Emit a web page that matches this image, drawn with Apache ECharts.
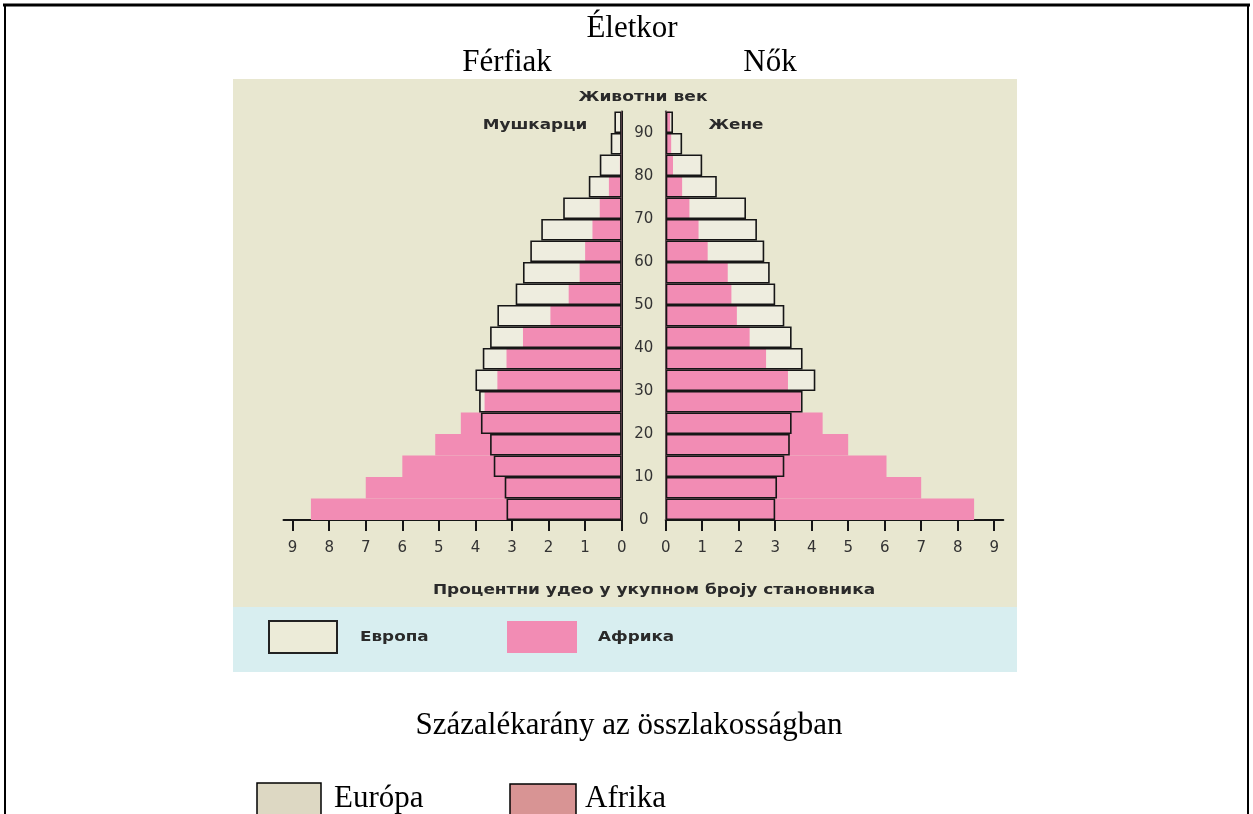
<!DOCTYPE html>
<html>
<head>
<meta charset="utf-8">
<script src="https://cdn.jsdelivr.net/npm/echarts@6/dist/echarts.min.js"></script>
<style>
html, body { margin: 0; padding: 0; background: #fff; }
#main { width: 1253px; height: 814px; }
</style>
</head>
<body>
<div id="main"></div>
<script>
// age groups, bottom to top
var ageGroups = ['0-4', '5-9', '10-14', '15-19', '20-24', '25-29', '30-34', '35-39', '40-44',
    '45-49', '50-54', '55-59', '60-64', '65-69', '70-74', '75-79', '80-84', '85-89', '90+'];
var ageTicks = [0, 10, 20, 30, 40, 50, 60, 70, 80, 90];
var pctTicks = [0, 1, 2, 3, 4, 5, 6, 7, 8, 9];

// % of total population
var europeMen   = [3.15, 3.2, 3.5, 3.6, 3.85, 3.9, 4.0, 3.8, 3.6, 3.4, 2.9, 2.7, 2.5, 2.2, 1.6, 0.9, 0.6, 0.3, 0.2];
var africaMen   = [8.5, 7.0, 6.0, 5.1, 4.4, 3.75, 3.4, 3.15, 2.7, 1.95, 1.45, 1.15, 1.0, 0.8, 0.6, 0.35, 0.05, 0.03, 0.02];
var europeWomen = [3.0, 3.05, 3.25, 3.4, 3.45, 3.75, 4.1, 3.75, 3.45, 3.25, 3.0, 2.85, 2.7, 2.5, 2.2, 1.4, 1.0, 0.45, 0.2];
var africaWomen = [8.45, 7.0, 6.05, 5.0, 4.3, 3.7, 3.35, 2.75, 2.3, 1.95, 1.8, 1.7, 1.15, 0.9, 0.65, 0.45, 0.2, 0.15, 0.12];

var PANEL = '#e8e7d0';
var STRIP = '#d8eef0';
var EU_FILL = '#eeeddf';
var AF_PINK = '#f28cb4';
var INK = '#2a2a2a';
var SERIF = '"Liberation Serif", "Times New Roman", serif';
var SANS = '"DejaVu Sans", Arial, sans-serif';

// europe fill -> africa -> europe outline on top
function sideSeries(idx, europe, africa) {
    var common = {
        type: 'bar',
        xAxisIndex: idx,
        yAxisIndex: idx,
        barWidth: '100%',
        barGap: '-100%',
        barCategoryGap: 0,
        silent: true,
        animation: false
    };
    return [
        Object.assign({}, common, { name: 'Европа', data: europe, itemStyle: { color: EU_FILL } }),
        Object.assign({}, common, { name: 'Африка', data: africa, itemStyle: { color: AF_PINK } }),
        Object.assign({}, common, { name: 'Европа', data: europe,
            itemStyle: { color: 'rgba(0,0,0,0)', borderColor: '#161616', borderWidth: 1.6 } })
    ];
}

function pctAxis(idx, inverse) {
    return {
        gridIndex: idx,
        type: 'value',
        inverse: inverse,
        min: 0,
        max: 9.25,
        axisLine: { show: true, lineStyle: { color: '#161616', width: 2 } },
        axisTick: { show: true, customValues: pctTicks, length: 11, lineStyle: { color: '#161616', width: 2 } },
        axisLabel: { customValues: pctTicks, margin: 21, fontSize: 15, color: '#333', fontFamily: SANS },
        splitLine: { show: false }
    };
}

function ageAxis(idx, pos) {
    return {
        gridIndex: idx,
        type: 'category',
        data: ageGroups,
        position: pos,
        axisLine: { show: true, lineStyle: { color: '#161616', width: 2 } },
        axisTick: { show: false },
        axisLabel: { show: false }
    };
}

// sx: horizontal stretch, the scanned lettering is wider than any local font
function txt(x, y, text, font, align, fill, sx) {
    return {
        type: 'text', x: x, y: y, z: 100, scaleX: sx || 1,
        style: { text: text, font: font, align: align || 'center', verticalAlign: 'middle', fill: fill || '#000' }
    };
}

var option = {
    backgroundColor: '#fff',
    animation: false,
    grid: [
        { left: 283.5, width: 338.2, top: 111.5, height: 408.5 },
        { left: 665.7, width: 337.6, top: 111.5, height: 408.5 }
    ],
    xAxis: [pctAxis(0, true), pctAxis(1, false)],
    yAxis: [
        ageAxis(0, 'right'),
        ageAxis(1, 'left'),
        {
            // age labels in the middle column
            gridIndex: 1,
            type: 'value',
            min: 0,
            max: 95,
            position: 'left',
            axisLine: { show: false },
            axisTick: { show: false },
            splitLine: { show: false },
            axisLabel: { customValues: ageTicks, align: 'center', margin: 22, fontSize: 15, color: '#333', fontFamily: SANS }
        }
    ],
    series: sideSeries(0, europeMen, africaMen).concat(sideSeries(1, europeWomen, africaWomen)),
    graphic: {
        elements: [
            // scanned panel + legend strip
            { type: 'rect', z: -10, shape: { x: 233, y: 79, width: 784, height: 528 }, style: { fill: PANEL } },
            { type: 'rect', z: -10, shape: { x: 233, y: 607, width: 784, height: 65 }, style: { fill: STRIP } },
            // page frame
            { type: 'line', z: 100, shape: { x1: 3, y1: 5, x2: 1250, y2: 5 }, style: { stroke: '#000', lineWidth: 3 } },
            { type: 'line', z: 100, shape: { x1: 5, y1: 5, x2: 5, y2: 814 }, style: { stroke: '#000', lineWidth: 2 } },
            { type: 'line', z: 100, shape: { x1: 1248, y1: 5, x2: 1248, y2: 814 }, style: { stroke: '#000', lineWidth: 2 } },

            txt(632, 29, 'Életkor', '31px ' + SERIF),
            txt(507, 63, 'Férfiak', '31px ' + SERIF),
            txt(770, 63, 'Nők', '31px ' + SERIF),

            txt(643, 97, 'Животни век', 'bold 14px ' + SANS, 'center', INK, 1.22),
            txt(535, 125, 'Мушкарци', 'bold 14px ' + SANS, 'center', INK, 1.2),
            txt(736, 125, 'Жене', 'bold 14px ' + SANS, 'center', INK, 1.2),
            txt(654, 590, 'Процентни удео у укупном броју становника', 'bold 14px ' + SANS, 'center', INK, 1.21),

            // legend inside the strip
            { type: 'rect', z: 100, shape: { x: 269, y: 621, width: 68, height: 32 }, style: { fill: '#ecebd8', stroke: '#222', lineWidth: 2 } },
            txt(360, 637, 'Европа', 'bold 14px ' + SANS, 'left', INK, 1.2),
            { type: 'rect', z: 100, shape: { x: 507, y: 621, width: 70, height: 32 }, style: { fill: AF_PINK } },
            txt(598, 637, 'Африка', 'bold 14px ' + SANS, 'left', INK, 1.2),

            txt(629, 726, 'Százalékarány az összlakosságban', '31px ' + SERIF),

            // bottom legend
            { type: 'rect', z: 100, shape: { x: 257, y: 783, width: 64, height: 40 }, style: { fill: '#ddd8c3', stroke: '#000', lineWidth: 1.5 } },
            txt(334, 799, 'Európa', '31px ' + SERIF, 'left'),
            { type: 'rect', z: 100, shape: { x: 510, y: 784, width: 66, height: 40 }, style: { fill: '#d89494', stroke: '#000', lineWidth: 1.5 } },
            txt(585, 799, 'Afrika', '31px ' + SERIF, 'left')
        ]
    }
};

echarts.init(document.getElementById('main')).setOption(option);
</script>
</body>
</html>
